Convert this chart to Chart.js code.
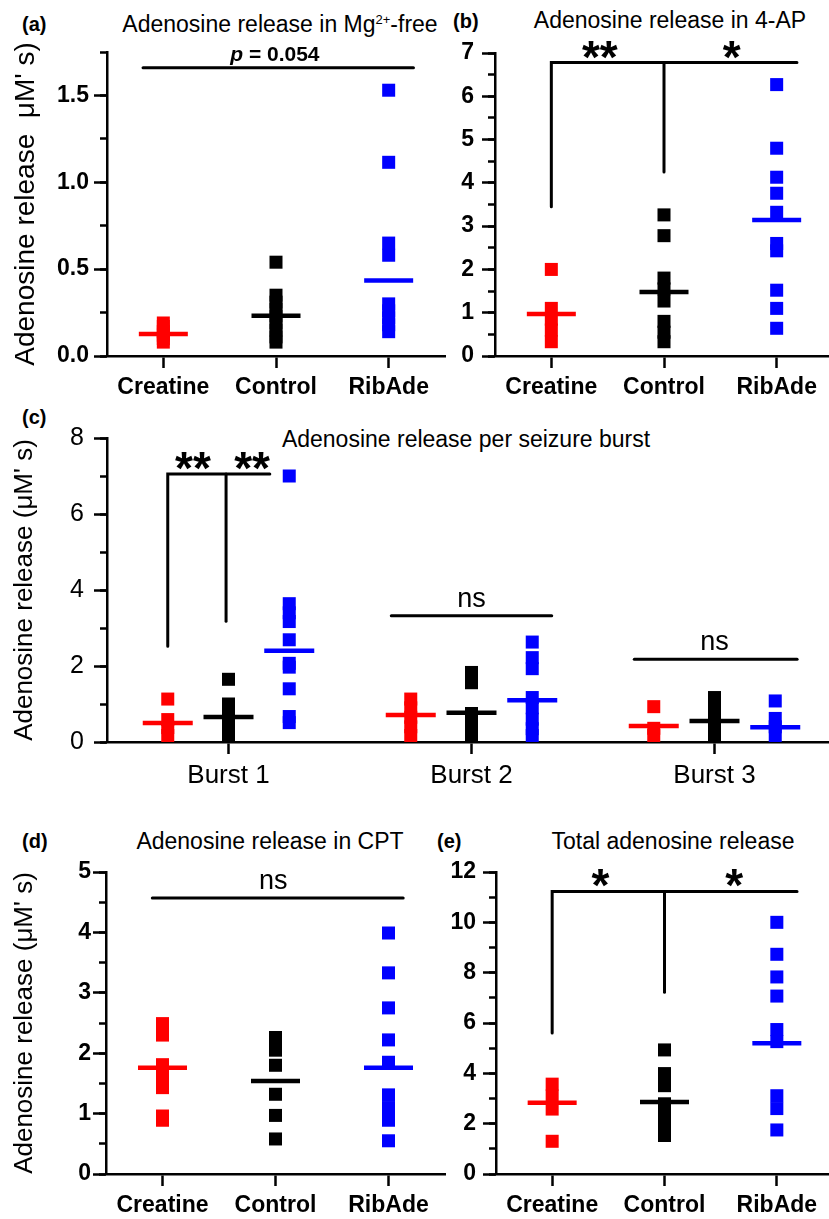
<!DOCTYPE html>
<html>
<head>
<meta charset="utf-8">
<script src="https://cdn.jsdelivr.net/npm/chart.js@4.4.1/dist/chart.umd.min.js"></script>
<style>
  body { margin: 0; width: 829px; height: 1219px; overflow: hidden; background: #fff; position: relative;
         font-family: 'Liberation Sans', Arial, sans-serif; color: #000; }
  canvas { position: absolute; }
  .lbl { position: absolute; font-weight: bold; font-size: 20px; line-height: 20px; white-space: nowrap; }
  .ttl { position: absolute; font-size: 23px; line-height: 23px; white-space: nowrap; transform: translateX(-50%); }
  .ttl sup { font-size: 13px; position: relative; top: -8px; vertical-align: baseline; line-height: 0; }
</style>
</head>
<body>
<div class="lbl" style="left:22px; top:14px">(a)</div>
<div class="ttl" style="left:280px; top:13px">Adenosine release in Mg<sup>2+</sup>-free</div>
<div class="lbl" style="left:453px; top:11px">(b)</div>
<div class="ttl" style="left:670px; top:9px">Adenosine release in 4-AP</div>
<div class="lbl" style="left:22px; top:407px">(c)</div>
<div class="ttl" style="left:466px; top:428px">Adenosine release per seizure burst</div>
<div class="lbl" style="left:22px; top:831px">(d)</div>
<div class="ttl" style="left:270px; top:830px">Adenosine release in CPT</div>
<div class="lbl" style="left:437px; top:831px">(e)</div>
<div class="ttl" style="left:673px; top:830px">Total adenosine release</div>

<canvas id="chartA"></canvas>
<canvas id="chartB"></canvas>
<canvas id="chartC"></canvas>
<canvas id="chartD"></canvas>
<canvas id="chartE"></canvas>

<script>
'use strict';

// ---- dati ----
const groups      = ['Creatine', 'Control', 'RibAde'];
const groupColors = ['#ff0000', '#000000', '#0000ff'];
const bursts      = ['Burst 1', 'Burst 2', 'Burst 3'];

// (a) Mg2+-free
const mgCreatine = [0.19, 0.17, 0.14, 0.12, 0.10, 0.08];
const mgControl  = [0.54, 0.35, 0.31, 0.27, 0.23, 0.19, 0.15, 0.11, 0.08];
const mgRibAde   = [1.53, 1.115, 0.65, 0.58, 0.30, 0.26, 0.22, 0.18, 0.14];
const mgMeans    = [0.127, 0.231, 0.434];

// (b) 4-AP
const apCreatine = [2.0, 1.1, 0.85, 0.6, 0.33];
const apControl  = [3.26, 2.78, 1.8, 1.55, 1.27, 0.8, 0.55, 0.33];
const apRibAde   = [6.27, 4.8, 4.13, 3.76, 3.32, 2.6, 2.43, 1.52, 1.1, 0.64];
const apMeans    = [0.97, 1.48, 3.14];

// (c) per burst (una riga per burst)
const burstCreatine = [[1.13, 0.59, 0.38, 0.17], [1.13, 0.9, 0.65, 0.4, 0.17], [0.93, 0.36, 0.17]];
const burstControl  = [[1.65, 1.0, 0.75, 0.5, 0.3, 0.17], [1.83, 1.56, 0.75, 0.45, 0.17], [1.17, 0.9, 0.6, 0.35, 0.17]];
const burstRibAde   = [[7.0, 3.64, 3.4, 3.17, 2.69, 2.07, 1.97, 1.4, 0.67, 0.51],
                       [2.63, 2.22, 1.93, 1.17, 0.9, 0.6, 0.35, 0.17], [1.08, 0.62, 0.4, 0.17]];
const burstMeansCreatine = [0.5, 0.71, 0.42];
const burstMeansControl  = [0.66, 0.77, 0.55];
const burstMeansRibAde   = [2.4, 1.1, 0.39];

// (d) CPT
const cptCreatine = [2.49, 2.3, 1.81, 1.6, 1.43, 0.96, 0.89];
const cptControl  = [2.26, 2.05, 1.8, 1.32, 0.97, 0.58];
const cptRibAde   = [3.99, 3.33, 2.75, 2.22, 1.85, 1.31, 1.1, 0.89, 0.55];
const cptMeans    = [1.76, 1.54, 1.76];

// (e) totale
const totCreatine = [3.57, 3.1, 2.58, 1.3];
const totControl  = [4.93, 3.99, 3.51, 2.79, 2.3, 1.9, 1.53];
const totRibAde   = [10.0, 8.73, 7.83, 7.07, 5.74, 5.26, 3.11, 2.6, 1.75];
const totMeans    = [2.83, 2.86, 5.2];

// parentesi di significatività (coordinate nei valori dei grafici)
const mgBracket    = [[[0.82, 1.66], [3.22, 1.66]]];
const apBracket    = [[[1, 3.45], [1, 6.78], [3.18, 6.78]], [[2, 4.25], [2, 6.78]]];
const burstBracket = [[[0.75, 2.52], [0.75, 7.05], [1.17, 7.05]], [[0.99, 3.18], [0.99, 7.05]],
                      [[1.67, 3.32], [2.33, 3.32]], [[2.67, 2.18], [3.34, 2.18]]];
const cptBracket   = [[[0.91, 4.57], [3.13, 4.57]]];
const totBracket   = [[[1, 5.6], [1, 11.23], [3.18, 11.23]], [[2, 7.22], [2, 11.23]]];

const mgNotes    = [{ x: 1.99, y: 1.66, text: 'p = 0.054' }];
const apNotes    = [{ x: 1.43, y: 6.78, text: '**' }, { x: 2.6, y: 6.78, text: '*' }];
const burstNotes = [{ x: 0.854, y: 7.05, text: '**' }, { x: 1.097, y: 7.05, text: '**' },
                    { x: 2, y: 3.32, text: 'ns' }, { x: 3, y: 2.18, text: 'ns' }];
const cptNotes   = [{ x: 1.98, y: 4.57, text: 'ns' }];
const totNotes   = [{ x: 1.43, y: 11.23, text: '*' }, { x: 2.62, y: 11.23, text: '*' }];

// ---- stile ----
const FONT = "'Liberation Sans', Arial, sans-serif";
const SQ = 9.2;            // raggio quadratino (lato ~13px)
const burstOffset = [-0.25, 0, 0.25];

function pointsDs(values, xs, color) {
  return {
    data: values.map((v, i) => ({ x: Array.isArray(xs) ? xs[i] : xs, y: v })),
    backgroundColor: color, borderWidth: 0,
    pointStyle: 'rect', pointRadius: SQ, order: 2
  };
}

function meanDs(means, xs, colors, half) {
  return {
    data: means.map((m, i) => ({ x: xs[i], y: m })),
    pointStyle: 'line', pointRadius: half, pointBorderWidth: 4.5,
    pointBorderColor: colors, backgroundColor: colors, order: 1
  };
}

function bracketDs(br) {
  return br.map(seg => ({
    data: seg.map(p => ({ x: p[0], y: p[1] })),
    showLine: true, borderColor: '#000', borderWidth: 3, pointRadius: 0,
    borderCapStyle: 'round', borderJoinStyle: 'miter', clip: false, order: 0
  }));
}

function notesPlugin(items) {
  return {
    id: 'notes',
    afterDatasetsDraw(chart) {
      const { ctx, scales: { x, y } } = chart;
      items.forEach(n => {
        const px = x.getPixelForValue(n.x), py = y.getPixelForValue(n.y);
        ctx.save();
        ctx.fillStyle = '#000';
        ctx.textBaseline = 'alphabetic';
        if (n.text.includes('*')) {
          ctx.font = 'bold 46px ' + FONT;
          ctx.textAlign = 'center';
          ctx.fillText(n.text, px, py + 10);
        } else if (n.text === 'ns') {
          ctx.font = '27px ' + FONT;
          ctx.textAlign = 'center';
          ctx.fillText(n.text, px, py - 9);
        } else {
          // "p" in corsivo
          const head = n.text.slice(0, 1), tail = n.text.slice(1);
          ctx.font = 'italic bold 21px ' + FONT;
          const w1 = ctx.measureText(head).width;
          ctx.font = 'bold 21px ' + FONT;
          const w2 = ctx.measureText(tail).width;
          ctx.textAlign = 'left';
          const x0 = px - (w1 + w2) / 2;
          ctx.font = 'italic bold 21px ' + FONT;
          ctx.fillText(head, x0, py - 7);
          ctx.font = 'bold 21px ' + FONT;
          ctx.fillText(tail, x0 + w1, py - 7);
        }
        ctx.restore();
      });
    }
  };
}

function makePanel(id, cfg) {
  const cv = document.getElementById(id);
  const [bx, by, bw, bh] = cfg.box;
  const [l, t, r, b] = cfg.area;
  cv.width = bw; cv.height = bh;
  cv.style.left = bx + 'px'; cv.style.top = by + 'px';
  const yw = l - bx, xh = by + bh - b;
  const tickGrid = len => ({ drawOnChartArea: false, tickLength: len, tickWidth: 2.5, tickColor: '#000' });

  return new Chart(cv, {
    type: 'scatter',
    data: { datasets: cfg.datasets },
    options: {
      responsive: false, animation: false, events: [],
      layout: { autoPadding: false, padding: { left: 0, top: t - by, right: bx + bw - r, bottom: 0 } },
      plugins: { legend: { display: false }, tooltip: { enabled: false } },
      scales: {
        x: {
          type: 'linear', min: 0.5, max: 3.5,
          afterBuildTicks: s => { s.ticks = cfg.xLabels.map((_, i) => ({ value: i + 1 })); },
          afterFit: s => { s.height = xh; s.paddingLeft = 0; s.paddingRight = 0; },
          ticks: { callback: v => cfg.xLabels[Math.round(v) - 1], font: cfg.xFont, color: '#000',
                   padding: 6, autoSkip: false, maxRotation: 0 },
          grid: tickGrid(12),
          border: { color: '#000', width: 2.5 }
        },
        y: {
          type: 'linear', min: 0, max: cfg.yMax, weight: 1,
          afterFit: s => { s.width = yw; },
          ticks: { stepSize: cfg.yStep, includeBounds: false, autoSkip: false, callback: cfg.yFmt,
                   font: cfg.yFont, color: '#000', padding: cfg.yPad },
          grid: tickGrid(13),
          border: { color: '#000', width: 2.5 },
          title: cfg.yTitle
            ? { display: true, text: cfg.yTitle, color: '#000', font: { family: FONT, size: cfg.yTitleSize || 26 }, padding: { top: 9, bottom: 0 } }
            : { display: false }
        },
        yMinor: {
          type: 'linear', axis: 'y', position: 'left', min: 0, max: cfg.yMax, weight: 0,
          afterFit: s => { s.width = 0; },
          ticks: { stepSize: cfg.yStep / 2, autoSkip: false, callback: () => '', padding: 0 },
          grid: tickGrid(7),
          border: { display: false }
        }
      }
    },
    plugins: [notesPlugin(cfg.notes)]
  });
}

const boldTick = { family: FONT, size: 23, weight: 'bold' };
const groupX = [1, 2, 3];

function groupPanel(sets, means, bracket) {
  return [
    meanDs(means, groupX, groupColors, 24.5),
    ...sets.map((vals, g) => pointsDs(vals, groupX[g], groupColors[g])),
    ...bracketDs(bracket)
  ];
}

makePanel('chartA', {
  box: [0, 30, 450, 370], area: [107, 52, 445, 356],
  yMax: 1.75, yStep: 0.5, yFmt: v => v.toFixed(1), yFont: boldTick, yPad: 5,
  yTitle: "Adenosine release  \u03BCM' s)", yTitleSize: 28,
  xLabels: groups, xFont: boldTick,
  datasets: groupPanel([mgCreatine, mgControl, mgRibAde], mgMeans, mgBracket),
  notes: mgNotes
});

makePanel('chartB', {
  box: [420, 30, 420, 370], area: [495, 53, 833, 356],
  yMax: 7, yStep: 1, yFmt: v => v, yFont: boldTick, yPad: 8,
  xLabels: groups, xFont: boldTick,
  datasets: groupPanel([apCreatine, apControl, apRibAde], apMeans, apBracket),
  notes: apNotes
});

// (c): tre gruppi per ogni burst
const burstSets  = [burstCreatine, burstControl, burstRibAde];
const burstMeans = [burstMeansCreatine, burstMeansControl, burstMeansRibAde];
const burstDatasets = [];
burstSets.forEach((set, g) => {
  const xs = bursts.map((_, k) => k + 1 + burstOffset[g]);
  burstDatasets.push(meanDs(burstMeans[g], xs, groupColors[g], 25));
  set.forEach((vals, k) => burstDatasets.push(pointsDs(vals, xs[k], groupColors[g])));
});
burstDatasets.push(...bracketDs(burstBracket));

makePanel('chartC', {
  box: [0, 405, 840, 395], area: [107, 438, 836, 742],
  yMax: 8, yStep: 2, yFmt: v => v, yFont: { family: FONT, size: 25 }, yPad: 10,
  yTitle: "Adenosine release (\u03BCM' s)",
  xLabels: bursts, xFont: { family: FONT, size: 26 },
  datasets: burstDatasets,
  notes: burstNotes
});

makePanel('chartD', {
  box: [0, 850, 450, 369], area: [106, 872, 445, 1174],
  yMax: 5, yStep: 1, yFmt: v => v, yFont: boldTick, yPad: 2,
  yTitle: "Adenosine release (\u03BCM' s)",
  xLabels: groups, xFont: boldTick,
  datasets: groupPanel([cptCreatine, cptControl, cptRibAde], cptMeans, cptBracket),
  notes: cptNotes
});

makePanel('chartE', {
  box: [420, 850, 420, 369], area: [496, 872, 833, 1174],
  yMax: 12, yStep: 2, yFmt: v => v, yFont: boldTick, yPad: 7,
  xLabels: groups, xFont: boldTick,
  datasets: groupPanel([totCreatine, totControl, totRibAde], totMeans, totBracket),
  notes: totNotes
});
</script>
</body>
</html>
